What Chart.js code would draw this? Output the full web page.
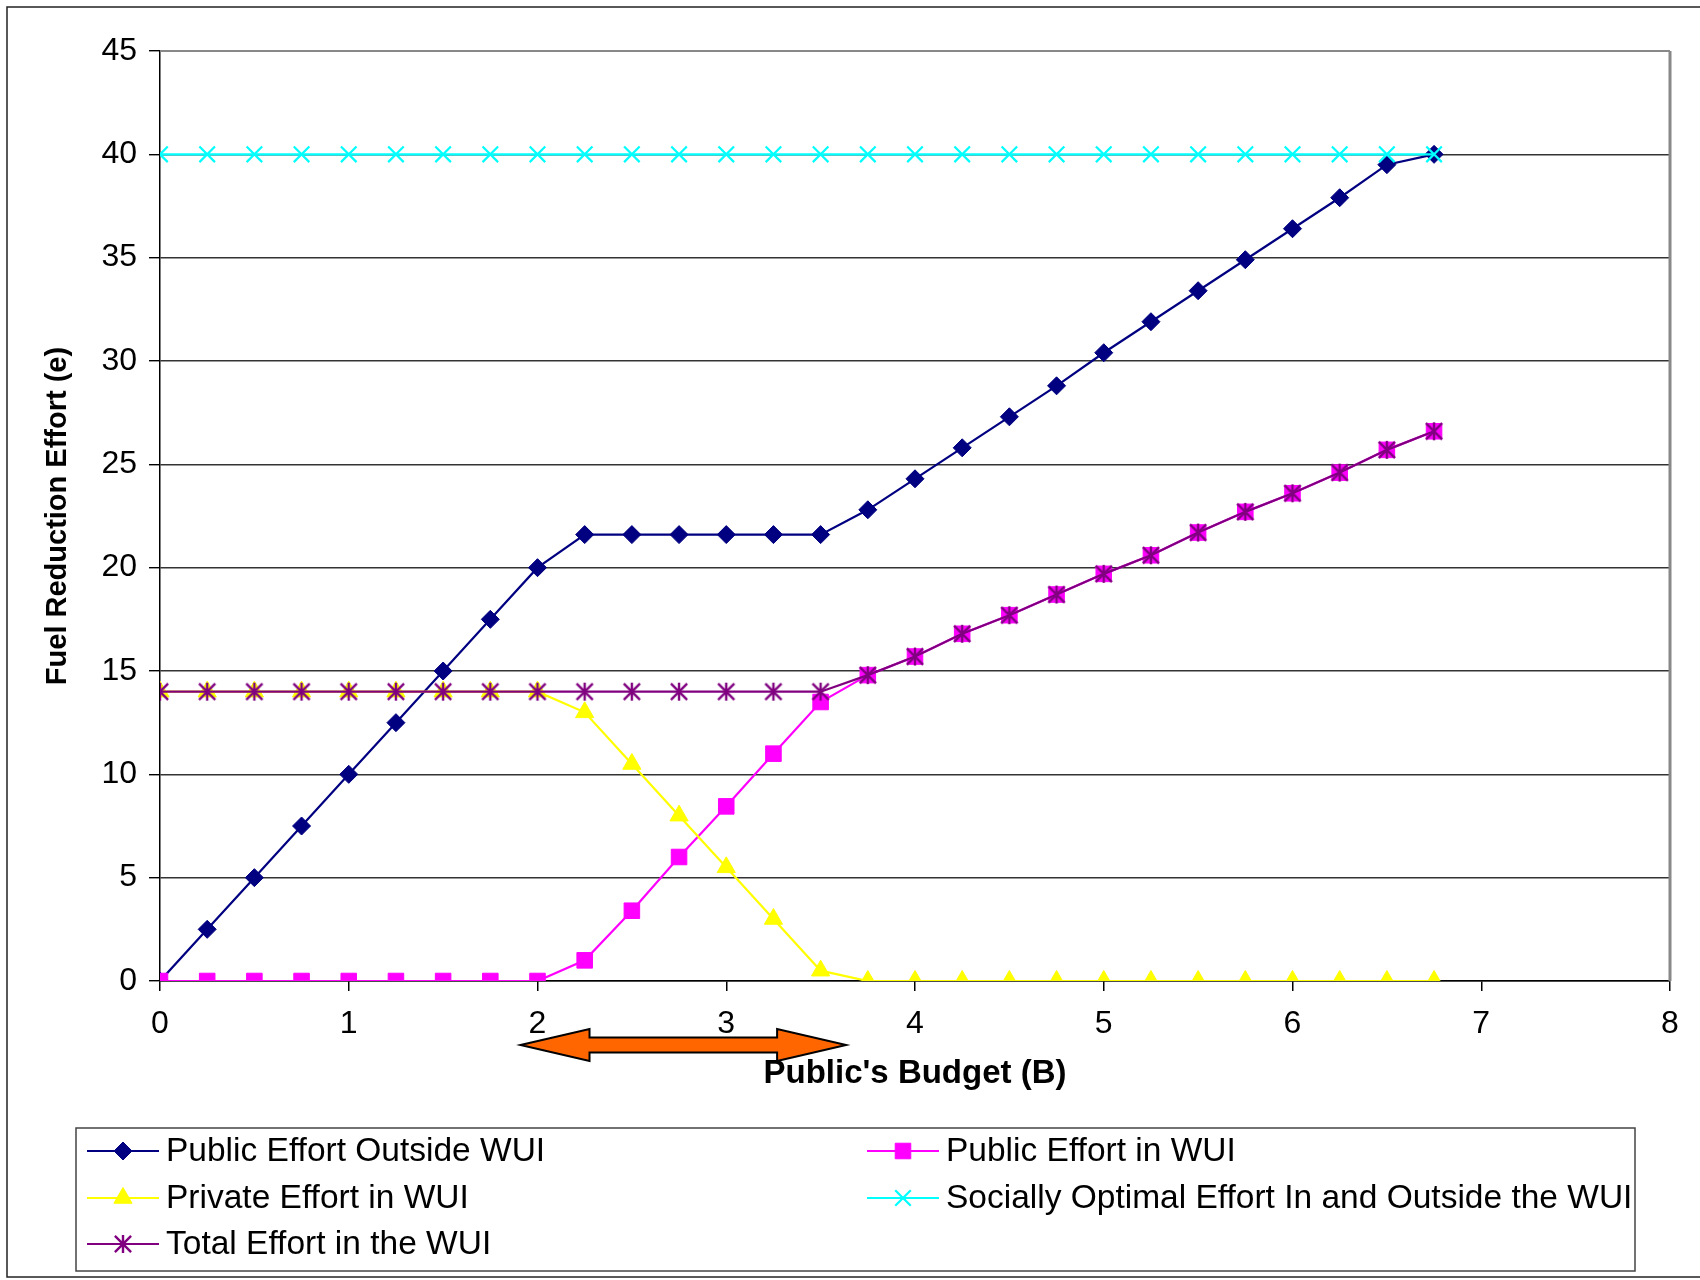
<!DOCTYPE html>
<html>
<head>
<meta charset="utf-8">
<script src="https://cdn.jsdelivr.net/npm/chart.js@4.4.1/dist/chart.umd.min.js"></script>
<style>
  html, body { margin: 0; padding: 0; background: #fff; }
  #wrap { width: 1700px; height: 1280px; }
</style>
</head>
<body>
<div id="wrap"><canvas id="chart" width="1700" height="1280"></canvas></div>
<script>
// public's budget B (x values)
const budget = [0, 0.25, 0.5, 0.75, 1, 1.25, 1.5, 1.75, 2, 2.25, 2.5, 2.75, 3, 3.25, 3.5,
  3.75, 4, 4.25, 4.5, 4.75, 5, 5.25, 5.5, 5.75, 6, 6.25, 6.5, 6.75];

const publicOutside = [0, 2.5, 5, 7.5, 10, 12.5, 15, 17.5, 20, 21.6, 21.6, 21.6, 21.6, 21.6, 21.6,
  22.8, 24.3, 25.8, 27.3, 28.8, 30.4, 31.9, 33.4, 34.9, 36.4, 37.9, 39.5, 40];
const publicInWui = [0, 0, 0, 0, 0, 0, 0, 0, 0, 1.0, 3.4, 6.0, 8.45, 11.0, 13.5,
  14.8, 15.7, 16.8, 17.7, 18.7, 19.7, 20.6, 21.7, 22.7, 23.6, 24.6, 25.7, 26.6];
const privateInWui = [14, 14, 14, 14, 14, 14, 14, 14, 14, 13.0, 10.5, 8.0, 5.5, 3.0, 0.5,
  0, 0, 0, 0, 0, 0, 0, 0, 0, 0, 0, 0, 0];
const sociallyOptimal = [40, 40, 40, 40, 40, 40, 40, 40, 40, 40, 40, 40, 40, 40, 40,
  40, 40, 40, 40, 40, 40, 40, 40, 40, 40, 40, 40, 40];
const totalInWui = [14, 14, 14, 14, 14, 14, 14, 14, 14, 14, 14, 14, 14, 14, 14,
  14.8, 15.7, 16.8, 17.7, 18.7, 19.7, 20.6, 21.7, 22.7, 23.6, 24.6, 25.7, 26.6];

const xTicks = [0, 1, 2, 3, 4, 5, 6, 7, 8];
const yTicks = [0, 5, 10, 15, 20, 25, 30, 35, 40, 45];

const FONT = "'Liberation Sans', Arial, sans-serif";

// excel style asterisk marker (vertical bar + X)
function asterisk(color, r) {
  const c = document.createElement('canvas');
  const s = Math.ceil(r * 2 + 4);
  c.width = c.height = s;
  const g = c.getContext('2d');
  const m = s / 2, d = r * 0.9;
  g.strokeStyle = color;
  g.lineWidth = 2.4;
  g.beginPath();
  g.moveTo(m, m - r); g.lineTo(m, m + r);
  g.moveTo(m - d, m - d); g.lineTo(m + d, m + d);
  g.moveTo(m - d, m + d); g.lineTo(m + d, m - d);
  g.stroke();
  return c;
}

function pts(arr) {
  return budget.map((b, i) => ({x: b, y: arr[i]}));
}

function series(label, arr, color, style, radius, order, extra) {
  return Object.assign({
    label: label,
    data: pts(arr),
    borderColor: color,
    backgroundColor: color,
    pointBackgroundColor: color,
    pointBorderColor: color,
    borderWidth: 2.2,
    pointStyle: style,
    pointRadius: radius,
    pointHoverRadius: radius,
    pointBorderWidth: 1,
    tension: 0,
    order: order
  }, extra || {});
}

const datasets = [
  series('Public Effort Outside WUI', publicOutside, '#000080', 'rectRot', 9, 5),
  series('Public Effort in WUI', publicInWui, '#FF00FF', 'rect', 11, 4),
  series('Private Effort in WUI', privateInWui, '#FFFF00', 'triangle', 10.5, 3),
  series('Socially Optimal Effort In and Outside the WUI', sociallyOptimal, '#00FFFF', 'crossRot', 11, 1,
    {pointBorderWidth: 2.2}),
  series('Total Effort in the WUI', totalInWui, '#800080', asterisk('#800080', 9), 9, 2)
];

// legend laid out as in the original: two columns, row by row
const legendCells = [
  {i: 0, col: 0, row: 0}, {i: 1, col: 1, row: 0},
  {i: 2, col: 0, row: 1}, {i: 3, col: 1, row: 1},
  {i: 4, col: 0, row: 2}
];

const framePlugin = {
  id: 'frame',
  beforeDraw(chart) {
    const ctx = chart.ctx;
    ctx.save();
    ctx.fillStyle = '#fff';
    ctx.fillRect(0, 0, chart.width, chart.height);
    ctx.strokeStyle = '#222';
    ctx.lineWidth = 1.5;
    ctx.strokeRect(7, 7, chart.width + 10, 1270);
    ctx.restore();
  },
  beforeDatasetsDraw(chart) {
    const {ctx, chartArea: a} = chart;
    ctx.save();
    ctx.strokeStyle = '#888';
    ctx.lineWidth = 2;
    ctx.beginPath();
    ctx.moveTo(a.left, a.top); ctx.lineTo(a.right, a.top);
    ctx.stroke();
    ctx.lineWidth = 3;
    ctx.beginPath();
    ctx.moveTo(a.right, a.top); ctx.lineTo(a.right, a.bottom);
    ctx.stroke();
    ctx.restore();
  },
  afterDraw(chart) {
    const {ctx, chartArea: a} = chart;
    const xs = chart.scales.x;

    // orange double arrow under the axis
    const l = xs.getPixelForValue(1.91), r = xs.getPixelForValue(3.635);
    const cy = a.bottom + 64, head = 69, hh = 16, sh = 7.5;
    ctx.save();
    ctx.beginPath();
    ctx.moveTo(l, cy);
    ctx.lineTo(l + head, cy - hh);
    ctx.lineTo(l + head, cy - sh);
    ctx.lineTo(r - head, cy - sh);
    ctx.lineTo(r - head, cy - hh);
    ctx.lineTo(r, cy);
    ctx.lineTo(r - head, cy + hh);
    ctx.lineTo(r - head, cy + sh);
    ctx.lineTo(l + head, cy + sh);
    ctx.lineTo(l + head, cy + hh);
    ctx.closePath();
    ctx.fillStyle = '#FF6600';
    ctx.fill();
    ctx.strokeStyle = '#000';
    ctx.lineWidth = 2;
    ctx.stroke();
    ctx.restore();

    // legend
    ctx.save();
    ctx.strokeStyle = '#444';
    ctx.lineWidth = 1.5;
    ctx.strokeRect(76, 1128, 1559, 143);
    const colX = [87, 867], rowY = [1151, 1198, 1244];
    ctx.font = '33.5px ' + FONT;
    ctx.textBaseline = 'middle';
    legendCells.forEach(cell => {
      const ds = chart.data.datasets[cell.i];
      const x0 = colX[cell.col], y = rowY[cell.row];
      ctx.strokeStyle = ds.borderColor;
      ctx.lineWidth = 2.2;
      ctx.beginPath();
      ctx.moveTo(x0, y); ctx.lineTo(x0 + 72, y);
      ctx.stroke();
      ctx.fillStyle = ds.pointBackgroundColor;
      ctx.strokeStyle = ds.pointBorderColor;
      ctx.lineWidth = ds.pointBorderWidth;
      if (Chart.helpers && Chart.helpers.drawPoint) {
        Chart.helpers.drawPoint(ctx, {
          pointStyle: ds.pointStyle, radius: ds.pointRadius,
          borderWidth: ds.pointBorderWidth, rotation: 0
        }, x0 + 36, y);
      }
      ctx.fillStyle = '#000';
      ctx.fillText(ds.label, x0 + 79, y + 1);
    });
    ctx.restore();
  }
};

new Chart(document.getElementById('chart'), {
  type: 'line',
  data: {datasets: datasets},
  plugins: [framePlugin],
  options: {
    responsive: false,
    devicePixelRatio: 1,
    animation: false,
    layout: {padding: {top: 51, right: 30, left: 0, bottom: 0}},
    plugins: {legend: {display: false}, tooltip: {enabled: false}},
    scales: {
      x: {
        type: 'linear',
        min: 0,
        max: 8,
        afterFit(s) { s.height = 299; },
        afterBuildTicks(s) { s.ticks = xTicks.map(v => ({value: v})); },
        ticks: {color: '#000', font: {size: 32, family: FONT}, padding: 14, maxRotation: 0},
        grid: {drawOnChartArea: false, drawTicks: true, tickLength: 10, color: '#000', lineWidth: 1.5},
        border: {color: '#000', width: 1.5},
        title: {
          display: true, text: "Public's Budget (B)", color: '#000',
          font: {size: 33, weight: 'bold', family: FONT},
          padding: {top: 0, bottom: 186}
        }
      },
      y: {
        min: 0,
        max: 45,
        afterFit(s) { s.width = 160; },
        afterBuildTicks(s) { s.ticks = yTicks.map(v => ({value: v})); },
        ticks: {color: '#000', font: {size: 32, family: FONT}, padding: 12},
        grid: {
          color: c => (c.tick && c.tick.value === 45) ? '#888' : '#333',
          lineWidth: 1.4, tickLength: 11, tickColor: '#000'
        },
        border: {color: '#000', width: 1.5},
        title: {
          display: true, text: 'Fuel Reduction Effort (e)', color: '#000',
          font: {size: 29, weight: 'bold', family: FONT},
          padding: {top: 41, bottom: 0}
        }
      }
    }
  }
});
</script>
</body>
</html>
